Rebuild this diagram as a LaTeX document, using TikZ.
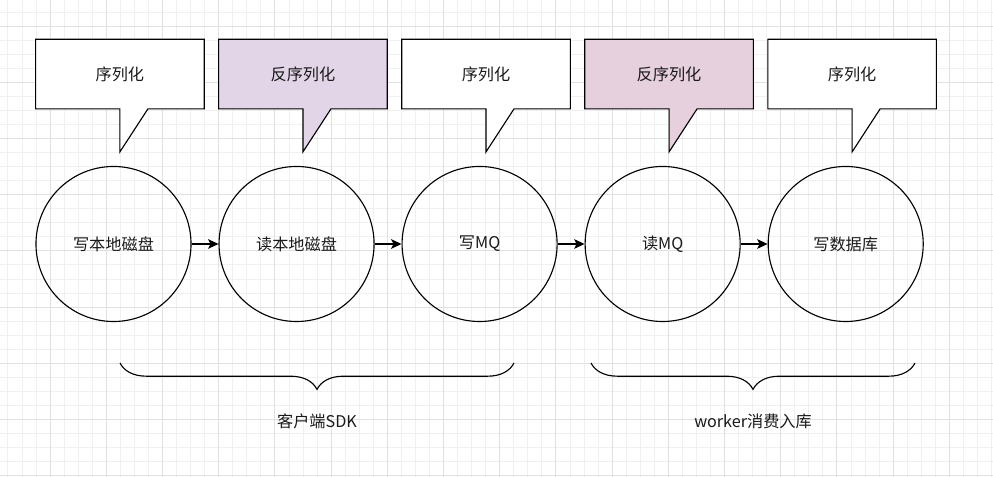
\documentclass[tikz,border=0pt]{standalone}
\usepackage{fontspec}
\setmainfont{Noto Sans CJK SC}
\usetikzlibrary{positioning,arrows.meta,calc,decorations.pathreplacing,backgrounds}
\definecolor{gridminor}{HTML}{F0F0F0}
\definecolor{gridmajor}{HTML}{E0E0E0}
\definecolor{lilac}{HTML}{E1D5E7}
\definecolor{rose}{HTML}{E6D0DE}
\definecolor{ink}{HTML}{1A1A1A}

\begin{document}
\begin{tikzpicture}[
  x=0.025cm, y=0.025cm,
  font=\fontsize{11.5pt}{14pt}\selectfont,
  text=ink,
  node distance=6.72mm,
  stage/.style={draw, circle, line width=0.8pt, minimum size=3.875cm, inner sep=0pt},
  bubble/.style={minimum width=4.2cm, minimum height=1.725cm, inner sep=0pt},
  barr/.style={-{Stealth[length=2.6mm,width=2.4mm,inset=0.6mm]}, line width=0.8pt},
  bracket/.style={decorate, decoration={brace, amplitude=6.6mm}, line width=0.8pt}
]
  \useasboundingbox (0,0) rectangle (993,477);

  % grid paper
  \begin{scope}[on background layer]
    \fill[white] (0,0) rectangle (993,477);
    \foreach \i in {0,...,71}
      \draw[gridminor, line width=0.5pt] ({-6.2+14.05*\i},0) -- ++(0,477);
    \foreach \i in {0,...,33}
      \draw[gridminor, line width=0.5pt] (0,{1.4+14.05*\i}) -- ++(993,0);
    \foreach \i in {0,...,17}
      \draw[gridmajor, line width=0.6pt] ({-6.2+56.2*\i},0) -- ++(0,477);
    \foreach \i in {0,...,8}
      \draw[gridmajor, line width=0.6pt] (0,{1.4+56.2*\i}) -- ++(993,0);
  \end{scope}

  % stages
  \node[stage] (w1) at (113.5,233) {写本地磁盘};
  \node[stage, right=of w1] (r1) {读本地磁盘};
  \node[stage, right=of r1] (wq) {写MQ};
  \node[stage, right=of wq] (rq) {读MQ};
  \node[stage, right=of rq] (wd) {写数据库};

  \draw[barr] (w1) -- (r1);
  \draw[barr] (r1) -- (wq);
  \draw[barr] (wq) -- (rq);
  \draw[barr] (rq) -- (wd);

  % callouts
  \node[bubble, above=14.25mm of w1, xshift=1.6mm] (s1) {序列化};
  \node[bubble, above=14.25mm of r1, xshift=1.6mm] (d1) {反序列化};
  \node[bubble, above=14.25mm of wq, xshift=1.6mm] (s2) {序列化};
  \node[bubble, above=14.25mm of rq, xshift=1.6mm] (d2) {反序列化};
  \node[bubble, above=14.25mm of wd, xshift=1.6mm] (s3) {序列化};

  \begin{scope}[on background layer]
    \foreach \c/\col in {s1/white, d1/lilac, s2/white, d2/rose, s3/white}
      \draw[fill=\col, line width=0.8pt] (\c.south west) -- (\c.north west)
        -- (\c.north east) -- (\c.south east) -- ($(\c.south)+(28,0)$)
        -- ($(\c.south)+(0,-43)$) -- (\c.south) -- cycle;
  \end{scope}

  % groups
  \coordinate (sdkL) at (120,114);
  \coordinate (sdkR) at (514,114);
  \coordinate (wkL) at (591,114);
  \coordinate (wkR) at (915,114);
  \draw[bracket] (sdkR) -- (sdkL);
  \draw[bracket] (wkR) -- (wkL);
  \node (sdk) at (317,56) {客户端SDK};
  \node (wk) at (753,56) {worker消费入库};
\end{tikzpicture}
\end{document}
